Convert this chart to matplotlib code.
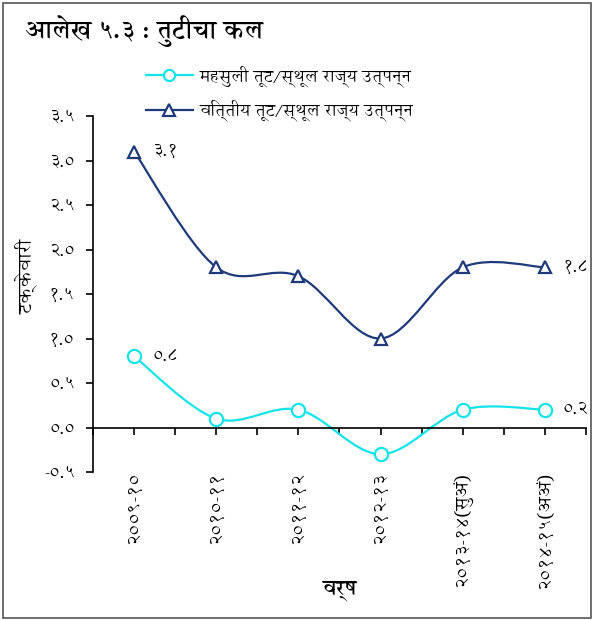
import matplotlib
matplotlib.use("Agg")
import matplotlib.pyplot as plt
from matplotlib.path import Path
from matplotlib.patches import PathPatch, Rectangle
from matplotlib.lines import Line2D
import numpy as np

# ---------------- data ----------------
years = ["२००९-१०", "२०१०-११", "२०११-१२", "२०१२-१३", "२०१३-१४(सुअं)", "२०१४-१५(अअं)"]
revenue_deficit = [0.8, 0.1, 0.2, -0.3, 0.2, 0.2]
fiscal_deficit = [3.1, 1.8, 1.7, 1.0, 1.8, 1.8]
series_names = ["महसुली तूट/स्थूल राज्य उत्पन्न", "वित्तीय तूट/स्थूल राज्य उत्पन्न"]
ytick_values = [-0.5, 0.0, 0.5, 1.0, 1.5, 2.0, 2.5, 3.0, 3.5]
ytick_labels = ["-०.५", "०.०", "०.५", "१.०", "१.५", "२.०", "२.५", "३.०", "३.५"]
first_labels = ["०.८", "३.१"]
last_labels = ["०.२", "१.८"]
title = "आलेख ५.३ : तुटीचा कल"
xlabel = "वर्ष"
ylabel = "टक्केवारी"

plt.rcParams["font.family"] = ["Annapurna SIL", "FreeSans", "DejaVu Sans"]

navy = "#1F3A7A"
cyan = "#14E3E8"

fig = plt.figure(figsize=(5.93, 6.20), dpi=100)
W, H = 593, 620
ax = fig.add_axes([93 / W, 1 - 472 / H, (586 - 93) / W, (472 - 116) / H])

x = np.arange(len(years))


def smooth_path(xs, ys):
    pts = np.column_stack([xs, ys]).astype(float)
    n = len(pts)
    verts = [pts[0]]
    codes = [Path.MOVETO]
    for i in range(n - 1):
        p0 = pts[i - 1] if i > 0 else pts[i]
        p1 = pts[i]
        p2 = pts[i + 1]
        p3 = pts[i + 2] if i + 2 < n else pts[i + 1]
        c1 = p1 + (p2 - p0) / 6.0
        c2 = p2 - (p3 - p1) / 6.0
        verts += [c1, c2, p2]
        codes += [Path.CURVE4] * 3
    return Path(verts, codes)


for ys, col, mk, ms in [(revenue_deficit, cyan, "o", 9.5), (fiscal_deficit, navy, "^", 9)]:
    ax.add_patch(PathPatch(smooth_path(x, ys), facecolor="none", edgecolor=col, lw=1.6,
                           transform=ax.transData, zorder=2))
    ax.plot(x, ys, linestyle="none", marker=mk, ms=ms, mfc="white", mec=col, mew=1.6, zorder=3)

for ys, fl, ll in [(revenue_deficit, first_labels[0], last_labels[0]),
                   (fiscal_deficit, first_labels[1], last_labels[1])]:
    ax.annotate(fl, (x[0], ys[0]), xytext=(13, 0), textcoords="offset points",
                ha="left", va="center", fontsize=13)
    ax.annotate(ll, (x[-1], ys[-1]), xytext=(13, 0), textcoords="offset points",
                ha="left", va="center", fontsize=13)

ax.set_xlim(-0.5, len(years) - 0.5)
ax.set_ylim(-0.5, 3.5)
ax.set_yticks(ytick_values, ytick_labels, fontsize=13)
ax.tick_params(axis="y", direction="out", length=5, width=1.2, pad=8)
ax.spines["top"].set_visible(False)
ax.spines["right"].set_visible(False)
ax.spines["left"].set_linewidth(1.2)
ax.spines["bottom"].set_position(("data", 0))
ax.spines["bottom"].set_linewidth(1.2)
ax.set_xticks(np.arange(-0.5, len(years), 0.5))
ax.tick_params(axis="x", direction="out", length=5, width=1.2, labelbottom=False)

sec = ax.secondary_xaxis(0)
sec.set_xticks(x, years, rotation=90, fontsize=13.5)
sec.tick_params(length=0, pad=0)
sec.spines["bottom"].set_visible(False)
sec.set_xlabel(xlabel, fontsize=15, fontweight="bold", labelpad=-6)

ax.set_ylabel(ylabel, fontsize=14)
ax.yaxis.set_label_coords(-0.112, 0.548)
ax.patch.set_alpha(0)

fig.text(25 / W, 1 - 31 / H, title, fontsize=18, fontweight="bold", ha="left", va="center")

handles = [Line2D([], [], color=cyan, lw=1.6, marker="o", ms=8, mfc="white", mec=cyan, mew=1.6),
           Line2D([], [], color=navy, lw=1.6, marker="^", ms=8, mfc="white", mec=navy, mew=1.6)]
fig.legend(handles, series_names, loc="upper left", bbox_to_anchor=(146 / W, 1 - 65 / H),
           frameon=False, fontsize=12.5, handlelength=2.7, handletextpad=0.4,
           labelspacing=0.75, borderpad=0, borderaxespad=0)

fig.add_artist(Rectangle((2.5 / W, 2.5 / H), 588 / W, 615 / H, transform=fig.transFigure,
                         facecolor="none", edgecolor="#555555", lw=1.2))

fig.savefig("out.png", dpi=100)
